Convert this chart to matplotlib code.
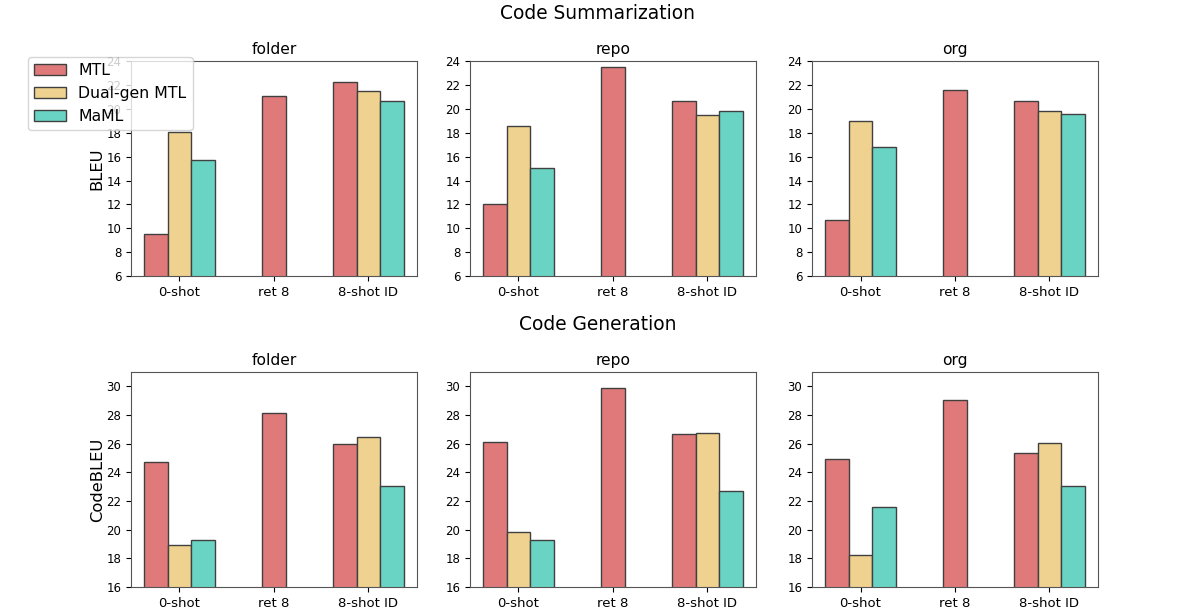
import numpy as np
import matplotlib
matplotlib.use("Agg")
import matplotlib.pyplot as plt

cats = ["0-shot", "ret 8", "8-shot ID"]
methods = ["MTL", "Dual-gen MTL", "MaML"]
colors = ["#e07a7a", "#f0d290", "#6ad4c4"]
splits = ["folder", "repo", "org"]

# BLEU (code summarization): 0-shot for 3 methods, ret 8 (MTL only), 8-shot ID for 3 methods
sum_zero = {"folder": [9.5, 18.05, 15.7], "repo": [12.0, 18.6, 15.05], "org": [10.7, 18.95, 16.8]}
sum_ret = {"folder": 21.05, "repo": 23.55, "org": 21.6}
sum_eight = {"folder": [22.25, 21.5, 20.7], "repo": [20.7, 19.5, 19.85], "org": [20.65, 19.8, 19.55]}

# CodeBLEU (code generation)
gen_zero = {"folder": [24.75, 18.9, 19.25], "repo": [26.1, 19.85, 19.25], "org": [24.9, 18.2, 21.6]}
gen_ret = {"folder": 28.15, "repo": 29.85, "org": 29.05}
gen_eight = {"folder": [26.0, 26.45, 23.05], "repo": [26.7, 26.75, 22.7], "org": [25.35, 26.05, 23.05]}

fig = plt.figure(figsize=(11.96, 6.15), dpi=100)
w = 0.25
x = np.arange(len(cats))
lefts = [0.1095, 0.393, 0.679]

def draw(ax, zero, ret, eight, ylim):
    for i in range(3):
        ax.bar(x[0] + (i - 1) * w, zero[i], w, color=colors[i], edgecolor="#404040",
               linewidth=1, label=methods[i])
        ax.bar(x[2] + (i - 1) * w, eight[i], w, color=colors[i], edgecolor="#404040", linewidth=1)
    ax.bar(x[1], ret, w, color=colors[0], edgecolor="#404040", linewidth=1)
    ax.set_ylim(*ylim)
    ax.set_xticks(x)
    ax.set_xticklabels(cats, fontsize=9.5)
    ax.tick_params(axis="y", labelsize=8.5)
    for s in ax.spines.values():
        s.set_color("#555555")

handles = None
for j, sp in enumerate(splits):
    ax = fig.add_axes([lefts[j], 0.551, 0.239, 0.3496])
    draw(ax, sum_zero[sp], sum_ret[sp], sum_eight[sp], (6, 24))
    ax.set_yticks(np.arange(6, 25, 2))
    ax.set_title(sp, fontsize=11.2, pad=5)
    if j == 0:
        ax.set_ylabel("BLEU", fontsize=11.8, labelpad=1)
        handles, labels = ax.get_legend_handles_labels()

for j, sp in enumerate(splits):
    ax = fig.add_axes([lefts[j], 0.0455, 0.239, 0.3496])
    draw(ax, gen_zero[sp], gen_ret[sp], gen_eight[sp], (16, 31))
    ax.set_yticks(np.arange(16, 31, 2))
    ax.set_title(sp, fontsize=11.2, pad=5)
    if j == 0:
        ax.set_ylabel("CodeBLEU", fontsize=11.8, labelpad=1)

fig.text(0.5, 0.978, "Code Summarization", ha="center", va="center", fontsize=13.4)
fig.text(0.5, 0.473, "Code Generation", ha="center", va="center", fontsize=13.4)
fig.legend(handles, labels, loc="upper left", bbox_to_anchor=(28 / 1196, 1 - 57 / 615),
           borderaxespad=0, fontsize=11.3)

fig.savefig("out.png", dpi=100)
